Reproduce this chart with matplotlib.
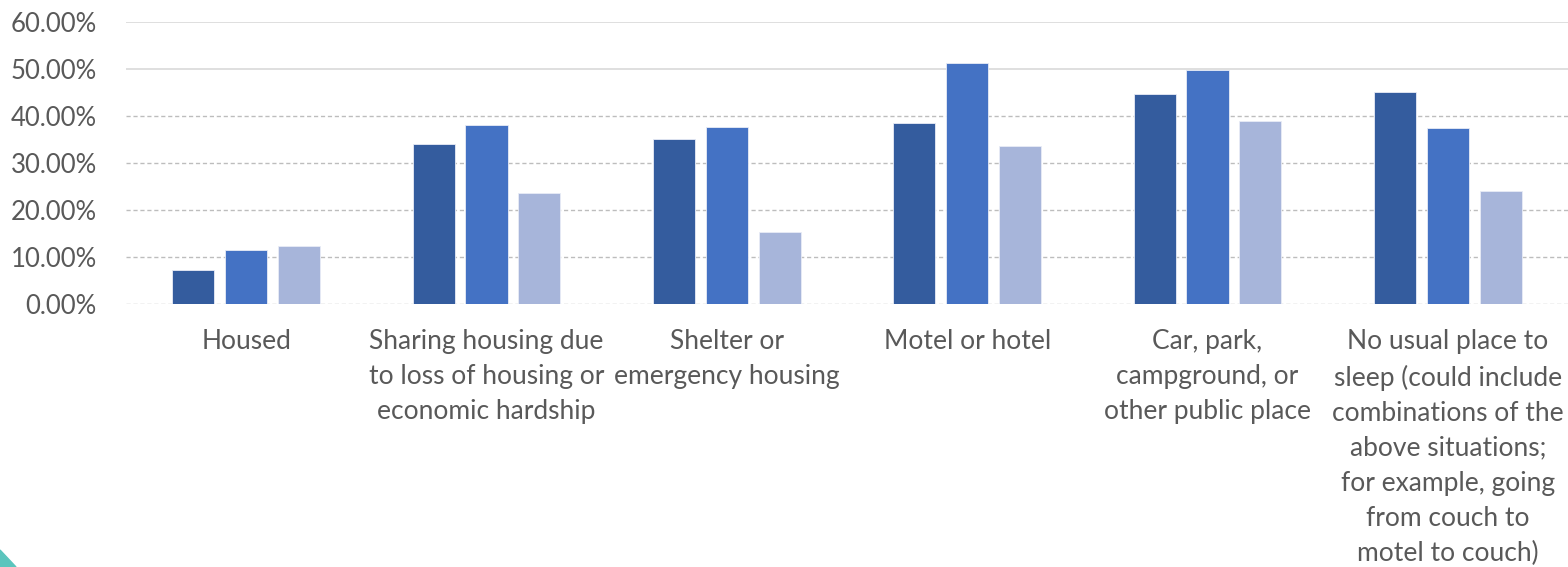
import matplotlib.pyplot as plt
from matplotlib.patches import Polygon
import numpy as np

categories = [
    "Housed",
    "Sharing housing due\nto loss of housing or\neconomic hardship",
    "Shelter or\nemergency housing",
    "Motel or hotel",
    "Car, park,\ncampground, or\nother public place",
    "No usual place to\nsleep (could include\ncombinations of the\nabove situations;\nfor example, going\nfrom couch to\nmotel to couch)",
]
series_a = [7.3, 34.0, 35.1, 38.5, 44.6, 45.1]
series_b = [11.4, 38.1, 37.7, 51.2, 49.7, 37.4]
series_c = [12.4, 23.7, 15.4, 33.7, 39.0, 24.1]
yticks = [0, 10, 20, 30, 40, 50, 60]

colors = ["#345C9E", "#4472C4", "#A7B5DA"]

plt.rcParams['font.family'] = ['Lato', 'DejaVu Sans']

fig = plt.figure(figsize=(15.68, 5.67), dpi=100)
ax = fig.add_axes([126 / 1568, 1 - 304 / 567, 1 - 126 / 1568, (304 - 22) / 567])

x = np.arange(len(categories))
w = 0.175
step = 0.22
for i, (vals, c) in enumerate(zip([series_a, series_b, series_c], colors)):
    ax.bar(x + (i - 1) * step, vals, width=w, color=c, edgecolor="#E8ECF6",
           linewidth=0.6, zorder=3)

ax.set_xlim(-0.5, len(categories) - 0.5)
ax.set_ylim(0, 60)
ax.set_yticks(yticks)
ax.set_yticklabels(["%.2f%%" % t for t in yticks])
ax.set_xticks(x)
ax.set_xticklabels(categories, linespacing=1.5)

for t in yticks:
    if t >= 50:
        ax.axhline(t, color="#D9D9D9", linewidth=1.2, zorder=1)
    else:
        ax.axhline(t, color="#BDBDBD", linewidth=1.0, linestyle=(0, (3, 2)), zorder=1)

for s in ax.spines.values():
    s.set_visible(False)
ax.tick_params(axis="both", length=0, colors="#595959")
ax.tick_params(axis="x", labelsize=19, pad=18)
ax.tick_params(axis="y", labelsize=18.5, pad=21)

fig.patches.append(Polygon([[0, 0], [0, 17 / 567], [16 / 1568, 0]], closed=True,
                           transform=fig.transFigure, color="#5BC5BD"))

fig.savefig("out.png", dpi=100)
